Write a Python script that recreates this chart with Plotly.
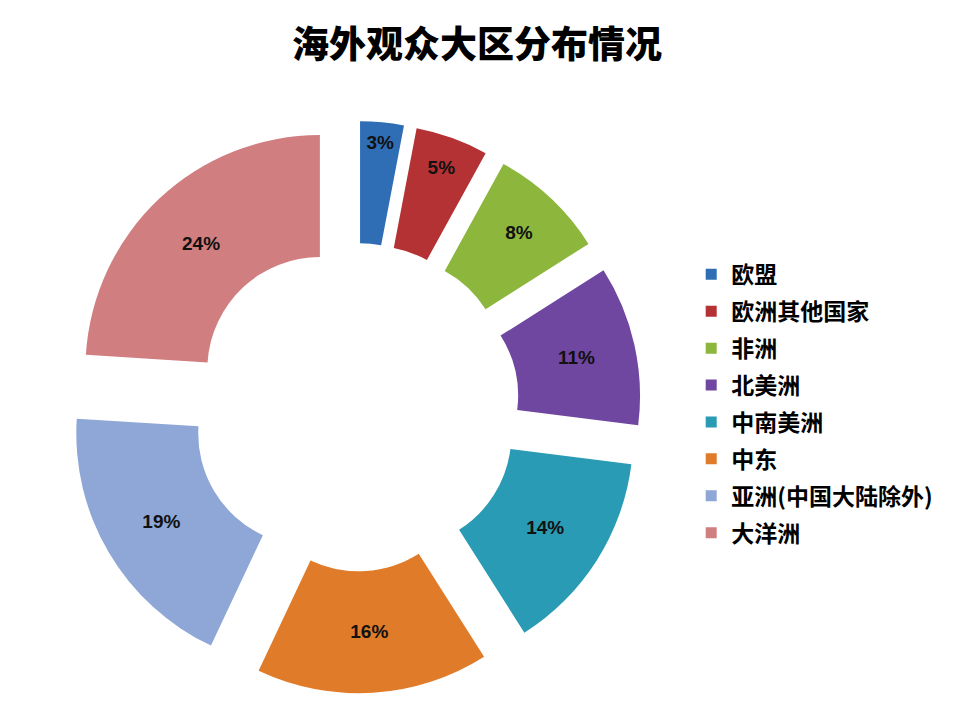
import plotly.graph_objects as go

categories = ["欧盟", "欧洲其他国家", "非洲", "北美洲", "中南美洲", "中东", "亚洲(中国大陆除外)", "大洋洲"]
values = [3, 5, 8, 11, 14, 16, 19, 24]
colors = ["#2F6EB5", "#B53234", "#8CB63C", "#6F46A0", "#2A9BB4", "#E07B29", "#8EA7D6", "#D07E80"]

fig = go.Figure()
fig.add_trace(go.Pie(
    labels=categories,
    values=values,
    sort=False,
    direction="clockwise",
    rotation=0,
    hole=0.48,
    pull=[0.22] * len(values),
    marker=dict(colors=colors, line=dict(width=0)),
    texttemplate="%{value}%",
    textposition="inside",
    insidetextorientation="horizontal",
    textfont=dict(family="Liberation Sans, Arial", size=19, color="#111111", weight="bold"),
    domain=dict(x=[0.072, 0.668], y=[0.037, 0.832]),
    showlegend=False,
))

# legend entries (one per category, same colours as the slices)
for name, col in zip(categories, colors):
    fig.add_trace(go.Scatter(
        x=[None], y=[None], mode="markers", name=name, legendgroup=name,
        marker=dict(symbol="square", size=11, color=col),
        showlegend=True, hoverinfo="skip",
    ))

fig.update_layout(
    width=960, height=720,
    margin=dict(l=0, r=0, t=0, b=0),
    paper_bgcolor="white",
    plot_bgcolor="white",
    xaxis=dict(visible=False),
    yaxis=dict(visible=False),
    title=dict(text="海外观众大区分布情况", x=0.497, xanchor="center", y=0.938, yanchor="middle",
               font=dict(family="Noto Sans CJK SC", size=37, color="#000000", weight=900)),
    legend=dict(x=0.72, y=0.439, xanchor="left", yanchor="middle",
                font=dict(family="Noto Sans CJK SC", size=23, color="#000000", weight="bold"),
                tracegroupgap=4, itemwidth=30),
    showlegend=True,
)

fig.write_html("out.html")
